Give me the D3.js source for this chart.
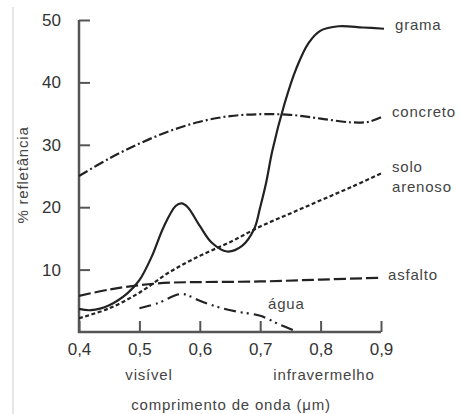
<!DOCTYPE html>
<html>
<head>
<meta charset="utf-8">
<script src="https://cdn.jsdelivr.net/npm/d3@7"></script>
<style>
  body { margin: 0; background: #fff; }
  svg { display: block; font-family: "Liberation Sans", Arial, sans-serif; }
  .lbl { font-size: 15px; fill: #444; letter-spacing: 0.8px; }
  .tick text { font-size: 17px; fill: #333; }
</style>
</head>
<body>
<div id="chart"></div>
<script>
// Parameters
var width = 460;
var height = 414;

// Data (wavelength in um, % reflectance)
var xTicks = [0.4, 0.5, 0.6, 0.7, 0.8, 0.9];
var yTicks = [10, 20, 30, 40, 50];
var grama = [[0.40,3.7],[0.42,3.5],[0.45,4.3],[0.48,6.2],[0.50,8.3],[0.52,12.0],[0.54,16.8],[0.56,20.2],[0.57,20.6],[0.58,20.0],[0.60,17.0],[0.62,14.3],[0.645,12.9],[0.67,13.8],[0.69,16.5],[0.70,20.0],[0.71,24.0],[0.72,29.0],[0.74,36.5],[0.76,42.3],[0.78,46.3],[0.80,48.3],[0.83,49.0],[0.87,48.8],[0.905,48.6]];
var concreto = [[0.40,25.0],[0.45,27.8],[0.50,30.2],[0.55,32.2],[0.60,33.7],[0.65,34.6],[0.70,34.9],[0.75,34.8],[0.80,34.2],[0.85,33.6],[0.88,33.7],[0.90,34.4]];
var solo = [[0.40,2.2],[0.45,3.8],[0.50,6.3],[0.55,9.6],[0.60,12.2],[0.65,14.4],[0.70,16.9],[0.75,19.0],[0.80,21.1],[0.85,23.2],[0.90,25.4]];
var asfalto = [[0.40,5.8],[0.45,6.8],[0.50,7.5],[0.55,7.9],[0.60,8.0],[0.70,8.1],[0.80,8.4],[0.90,8.7]];
var agua = [[0.50,3.8],[0.53,4.6],[0.57,6.1],[0.60,5.0],[0.63,4.0],[0.66,3.3],[0.70,2.6],[0.73,1.3],[0.76,0.1]];

var svg = d3.select("#chart").append("svg")
    .attr("width", width)
    .attr("height", height);

// light border line on the left
svg.append("line").attr("x1", 13).attr("x2", 13).attr("y1", 7).attr("y2", height)
    .attr("stroke", "#ddd").attr("stroke-width", 1.5);

var xScale = d3.scaleLinear().domain([0.4, 0.9]).range([79, 381]);
var yScale = d3.scaleLinear().domain([0, 50]).range([332, 20]);

// Axes
var xAxis = d3.axisBottom(xScale).tickValues(xTicks).tickSizeInner(-11).tickSizeOuter(0)
    .tickPadding(14).tickFormat(function(d){ return d3.format(".1f")(d).replace(".", ","); });
var yAxis = d3.axisLeft(yScale).tickValues(yTicks).tickSizeInner(-11).tickSizeOuter(0)
    .tickPadding(18);

var gx = svg.append("g").attr("transform", "translate(0,332)").call(xAxis);
var gy = svg.append("g").attr("transform", "translate(79,0)").call(yAxis);
[gx, gy].forEach(function(g){
    g.select(".domain").attr("stroke", "#555").attr("stroke-width", 2.5);
    g.selectAll(".tick line").attr("stroke", "#555").attr("stroke-width", 2);
    g.selectAll(".tick text").attr("font-family", null);
});
gx.select(".domain").attr("d", "M78,0H381");
gy.select(".domain").attr("d", "M0,20V333");
gx.selectAll(".tick text").attr("dy", "0.5em");

// Lines
var line = d3.line()
    .x(function(d){ return xScale(d[0]); })
    .y(function(d){ return yScale(d[1]); })
    .curve(d3.curveCatmullRom.alpha(0.5));

var series = [
    {data: grama, dash: null},
    {data: concreto, dash: "10,3,2,3"},
    {data: solo, dash: "4,2.5"},
    {data: asfalto, dash: "12,4"},
    {data: agua, dash: "12,5,2,4,2,5"}
];
svg.selectAll("path.serie").data(series).enter().append("path")
    .attr("class", "serie")
    .attr("d", function(d){ return line(d.data); })
    .attr("fill", "none")
    .attr("stroke", "#222")
    .attr("stroke-width", 2.2)
    .attr("stroke-dasharray", function(d){ return d.dash; });

// Series labels
function label(txt, x, y, anchor){
    svg.append("text").attr("class", "lbl").attr("x", x).attr("y", y)
        .attr("text-anchor", anchor || "start").text(txt);
}
label("grama", 395, 30);
label("concreto", 392, 117);
label("solo", 392, 172);
label("arenoso", 392, 192);
label("asfalto", 388, 280);
label("água", 268, 309);

// Axis titles
label("visível", 149, 380, "middle");
label("infravermelho", 324, 380, "middle");
label("comprimento de onda (μm)", 231, 410, "middle");
svg.append("text").attr("class", "lbl")
    .attr("transform", "translate(28,175)rotate(-90)")
    .attr("text-anchor", "middle")
    .text("% refletância");
</script>
</body>
</html>
